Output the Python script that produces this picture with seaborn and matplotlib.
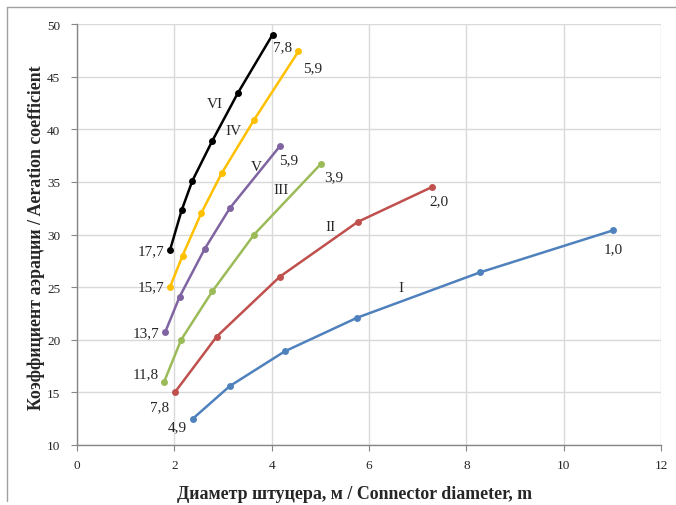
import numpy as np
import pandas as pd
import seaborn as sns
import matplotlib.pyplot as plt
from matplotlib.lines import Line2D

# Values
series_names = ['I', 'II', 'III', 'IV', 'V', 'VI']

x_I = [2.38, 3.14, 4.27, 5.76, 8.28, 11.02]
y_I = [12.5, 15.6, 18.9, 22.1, 26.4, 30.4]

x_II = [2.01, 2.87, 4.17, 5.77, 7.29]
y_II = [15.0, 20.3, 26.0, 31.2, 34.5]

x_III = [1.79, 2.14, 2.78, 3.64, 5.01]
y_III = [16.0, 20.0, 24.6, 30.0, 36.7]

x_IV = [1.91, 2.17, 2.55, 2.97, 3.64, 4.55]
y_IV = [25.0, 28.0, 32.0, 35.8, 40.9, 47.4]

x_V = [1.81, 2.11, 2.62, 3.14, 4.17]
y_V = [20.7, 24.1, 28.6, 32.5, 38.4]

x_VI = [1.91, 2.15, 2.37, 2.78, 3.30, 4.02]
y_VI = [28.5, 32.3, 35.1, 38.9, 43.4, 49.0]

# start / end annotations
start_labels = ['4,9', '7,8', '11,8', '15,7', '13,7', '17,7']
end_labels = ['1,0', '2,0', '3,9', '5,9', '5,9', '7,8']

# roman numeral positions
roman_x = [6.66, 5.20, 4.19, 3.21, 3.68, 2.84]
roman_y = [25.0, 30.8, 34.3, 39.9, 36.5, 42.4]

colors = ['#4F81BD', '#C0504D', '#9BBB59', '#FFC000', '#8064A2', '#000000']

xs = [x_I, x_II, x_III, x_IV, x_V, x_VI]
ys = [y_I, y_II, y_III, y_IV, y_V, y_VI]

frames = []
for name, xv, yv in zip(series_names, xs, ys):
    frames.append(pd.DataFrame({'x': xv, 'y': yv, 'series': name}))
df = pd.concat(frames, ignore_index=True)

sns.set_style('whitegrid', {'grid.color': '#d9d9d9', 'axes.edgecolor': '#868686'})
plt.rcParams['font.family'] = ['Liberation Serif', 'DejaVu Serif']

fig = plt.figure(figsize=(6.76, 5.06), dpi=100)
ax = fig.add_axes([77 / 676, 1 - 446 / 506, 584 / 676, 421 / 506])

sns.lineplot(data=df, x='x', y='y', hue='series', palette=dict(zip(series_names, colors)),
             marker='o', markersize=5, markeredgewidth=0, linewidth=1.8,
             sort=False, estimator=None, legend=False, ax=ax)

ax.set_xlim(0, 12)
ax.set_ylim(10, 50)
ax.set_xticks(range(0, 13, 2))
ax.set_yticks(range(10, 51, 5))
ax.tick_params(labelsize=9.5, length=4, direction='out', color='#868686')
ax.tick_params(axis='y', left=True, pad=8)
ax.tick_params(axis='x', bottom=True, pad=6)
ax.grid(True, color='#d9d9d9', linewidth=1)
for s in ['top', 'right']:
    ax.spines[s].set_visible(False)
for s in ['left', 'bottom']:
    ax.spines[s].set_color('#868686')
    ax.spines[s].set_linewidth(1)

ax.set_xlabel('')
ax.set_ylabel('')
fig.text(355 / 676, 1 - 495 / 506, 'Диаметр штуцера, м / Connector diameter, m',
         fontsize=12.9, fontweight='bold', ha='center', va='center')
fig.text(36 / 676, 1 - 237.5 / 506, 'Коэффициент аэрации / Aeration coefficient',
         fontsize=12.8, fontweight='bold', ha='center', va='center', rotation=90)

# start labels (left of the first point)
start_offsets = [(-4, -6), (-4, -10), (-4, 6), (-4, 0), (-4, 0), (-4, 0)]
for xv, yv, lab, off in zip(xs, ys, start_labels, start_offsets):
    ax.annotate(lab, (xv[0], yv[0]), xytext=off, textcoords='offset points',
                ha='right', va='center', fontsize=11)

# end labels (below right of the last point)
end_offsets = [(0, -13), (5, -10), (9, -9), (10, -12), (6, -10), (7, -9)]
for xv, yv, lab, off in zip(xs, ys, end_labels, end_offsets):
    ax.annotate(lab, (xv[-1], yv[-1]), xytext=off, textcoords='offset points',
                ha='center', va='center', fontsize=11)

for name, rx, ry in zip(series_names, roman_x, roman_y):
    ax.text(rx, ry, name, ha='center', va='center', fontsize=11)

# chart area border (left and top edges)
fig.add_artist(Line2D([7 / 676, 7 / 676], [1 - 8 / 506, 1 - 502 / 506],
                      transform=fig.transFigure, color='#a0a0a0', linewidth=1))
fig.add_artist(Line2D([7 / 676, 1], [1 - 8 / 506, 1 - 8 / 506],
                      transform=fig.transFigure, color='#a0a0a0', linewidth=1))

fig.savefig('out.png', dpi=100, facecolor='white')
